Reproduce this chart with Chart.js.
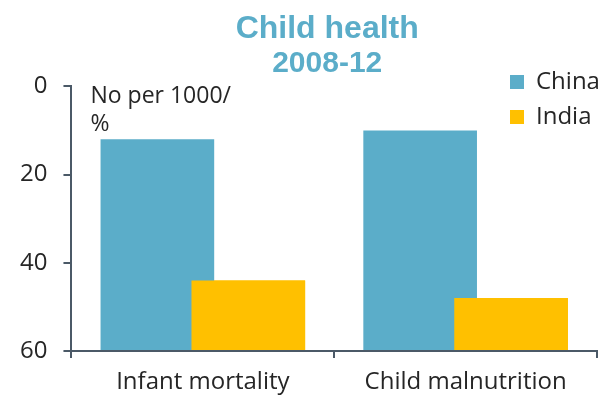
<!DOCTYPE html>
<html>
<head>
<meta charset="utf-8">
<script src="https://cdn.jsdelivr.net/npm/chart.js@4/dist/chart.umd.min.js"></script>
<style>
  body { margin: 0; background: #fff; }
</style>
</head>
<body>
<canvas id="chart" width="600" height="395"></canvas>
<script>
  // Daten
  const categories = ['Infant mortality', 'Child malnutrition'];
  const china = [12, 10];
  const india = [44, 48];
  const yTicks = [0, 20, 40, 60];
  const unitLines = ['No per 1000/', '%'];

  const blue = '#5BADC9';
  const gold = '#FFC000';
  const axisColor = '#4B5967';
  const textColor = '#262626';
  const font = '"Open Sans", "DejaVu Sans", sans-serif';

  // Legende oben rechts in die Zeichenfläche schieben, Titel etwas nach links
  const placeBoxes = {
    id: 'placeBoxes',
    afterLayout(chart) {
      const lg = chart.legend;
      const w = lg.width, h = lg.height;
      lg.left = 499; lg.top = 59;
      lg.right = lg.left + w; lg.bottom = lg.top + h;
      chart.boxes
        .filter(b => b.options && typeof b.options.text === 'string')
        .forEach(b => { b.left -= 7; b.right -= 7; });
    }
  };

  // India über China zeichnen (Überlappung wie im Original)
  const indiaOnTop = {
    id: 'indiaOnTop',
    afterDatasetsDraw(chart) {
      chart.getDatasetMeta(1).data.forEach(bar => bar.draw(chart.ctx));
    }
  };

  // Einheit oben links im Diagramm
  const unitNote = {
    id: 'unitNote',
    afterDraw(chart) {
      const { ctx, chartArea } = chart;
      ctx.save();
      ctx.font = '23px ' + font;
      ctx.fillStyle = textColor;
      ctx.textBaseline = 'middle';
      unitLines.forEach((t, i) => ctx.fillText(t, chartArea.left + 19, chartArea.top + 10 + i * 28));
      ctx.restore();
    }
  };

  new Chart(document.getElementById('chart'), {
    type: 'bar',
    data: {
      labels: categories,
      datasets: [
        { label: 'China', data: china, backgroundColor: blue },
        { label: 'India', data: india, backgroundColor: gold }
      ]
    },
    options: {
      responsive: false,
      animation: false,
      base: 60,
      categoryPercentage: 0.692,
      barPercentage: 1.25,
      layout: { padding: { left: 4, right: 3, top: 0, bottom: 0 } },
      plugins: {
        tooltip: { enabled: false },
        title: {
          display: true,
          text: 'Child health',
          color: blue,
          fullSize: false,
          font: { family: 'Arial, "Liberation Sans", sans-serif', size: 32, weight: 'bold' },
          padding: { top: 10, bottom: 0 }
        },
        subtitle: {
          display: true,
          text: '2008-12',
          color: blue,
          fullSize: false,
          font: { family: 'Arial, "Liberation Sans", sans-serif', size: 30, weight: 'bold', lineHeight: 1 },
          padding: { top: 0, bottom: 8 }
        },
        legend: {
          position: 'chartArea',
          align: 'start',
          labels: {
            boxWidth: 14,
            boxHeight: 14,
            padding: 11,
            color: textColor,
            font: { family: font, size: 24 }
          }
        }
      },
      scales: {
        x: {
          afterFit(scale) { scale.height = 44; },
          grid: { display: true, drawOnChartArea: false, drawTicks: true, tickLength: 7, color: axisColor, lineWidth: 2 },
          border: { display: true, color: axisColor, width: 2 },
          ticks: { color: textColor, padding: 12, font: { family: font, size: 24, lineHeight: 1 } }
        },
        y: {
          reverse: true,
          min: 0,
          max: 60,
          afterBuildTicks(scale) { scale.ticks = yTicks.map(v => ({ value: v })); },
          grid: { display: true, drawOnChartArea: false, drawTicks: true, tickLength: 8, color: axisColor, lineWidth: 2 },
          border: { display: true, color: axisColor, width: 2 },
          ticks: { color: textColor, padding: 16, font: { family: font, size: 24 } }
        }
      }
    },
    plugins: [placeBoxes, indiaOnTop, unitNote]
  });
</script>
</body>
</html>
